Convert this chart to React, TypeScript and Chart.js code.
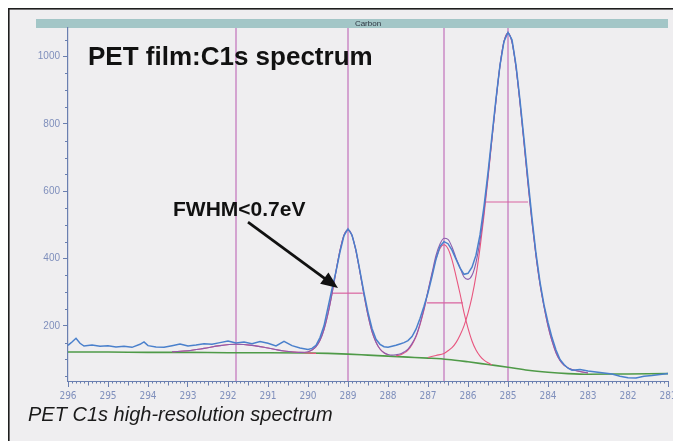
import { useEffect, useRef } from "react";
import { Chart, registerables } from "chart.js";

Chart.register(...registerables);

// ---- data (binding energy in eV, intensity in counts) ----
const rawE = [
  296.0, 295.9, 295.8, 295.7, 295.6, 295.4, 295.2, 295.0, 294.8, 294.6, 294.4, 294.2, 294.1, 294.0,
  293.8, 293.6, 293.4, 293.2, 293.0, 292.8, 292.6, 292.4, 292.2, 292.0, 291.8, 291.6, 291.4, 291.2,
  291.0, 290.8, 290.6, 290.4, 290.2, 290.0,
  289.9, 289.8, 289.7, 289.6, 289.5, 289.4, 289.3, 289.2, 289.1, 289.0,
  288.9, 288.8, 288.7, 288.6, 288.5, 288.4, 288.3, 288.2, 288.1, 288.0,
  287.9, 287.8, 287.7, 287.6, 287.5, 287.4, 287.3, 287.2, 287.1, 287.0,
  286.9, 286.8, 286.7, 286.6, 286.5, 286.4, 286.3, 286.2, 286.1, 286.0,
  285.9, 285.8, 285.7, 285.6, 285.5, 285.4, 285.3, 285.2, 285.1, 285.0,
  284.9, 284.8, 284.7, 284.6, 284.5, 284.4, 284.3, 284.2, 284.1, 284.0,
  283.9, 283.8, 283.7, 283.6, 283.5, 283.4, 283.2, 283.0,
  282.8, 282.6, 282.4, 282.2, 282.0, 281.8, 281.6, 281.4, 281.2, 281.0,
];
const rawI = [
  142, 152, 163, 148, 140, 143, 139, 141, 137, 139, 136, 145, 152, 141,
  137, 136, 141, 146, 140, 143, 147, 145, 150, 155, 149, 152, 147, 153,
  148, 140, 154, 141, 134, 130,
  133, 142, 165, 200, 255, 310, 362, 420, 468, 488,
  470, 425, 362, 298, 240, 192, 160, 145, 138, 136,
  139, 142, 146, 150, 156, 168, 190, 222, 258, 298,
  346, 398, 436, 450, 444, 425, 398, 372, 353, 356,
  374, 410, 470, 555, 655, 765, 875, 975, 1045, 1072,
  1050, 975, 870, 755, 635, 520, 415, 330, 262, 210,
  165, 128, 100, 85, 74, 68, 70, 66,
  63, 60, 57, 50, 46, 45, 50, 52, 55, 58,
];

const envE = [
  293.4, 293.0, 292.6, 292.2, 291.8, 291.4, 291.0, 290.6, 290.2,
  290.0, 289.9, 289.8, 289.7, 289.6, 289.5, 289.4, 289.3, 289.2, 289.1, 289.0,
  288.9, 288.8, 288.7, 288.6, 288.5, 288.4, 288.3, 288.2, 288.1, 288.0,
  287.9, 287.8, 287.7, 287.6, 287.5, 287.4, 287.3, 287.2, 287.1, 287.0,
  286.9, 286.8, 286.7, 286.6, 286.5, 286.4, 286.3, 286.2, 286.1, 286.0,
  285.9, 285.8, 285.7, 285.6, 285.5, 285.4, 285.3, 285.2, 285.1, 285.0,
  284.9, 284.8, 284.7, 284.6, 284.5, 284.4, 284.3, 284.2, 284.1, 284.0,
  283.9, 283.8, 283.7, 283.6, 283.5, 283.4, 283.2, 283.0,
];
const envI = [
  123, 126, 133, 141, 145, 142, 134, 125, 121,
  123, 128, 138, 157, 189, 236, 295, 362, 424, 469, 485,
  468, 422, 359, 292, 231, 183, 151, 131, 120, 115,
  113, 114, 116, 122, 131, 147, 170, 206, 250, 304,
  357, 409, 443, 460, 457, 434, 402, 373, 345, 338,
  350, 388, 453, 540, 644, 758, 870, 973, 1045, 1070,
  1043, 968, 862, 744, 622, 508, 408, 324, 258, 200,
  155, 120, 97, 83, 75, 70, 64, 60,
];

const c1E = [290.0, 289.9, 289.8, 289.7, 289.6, 289.5, 289.4, 289.3, 289.2, 289.1, 289.0,
  288.9, 288.8, 288.7, 288.6, 288.5, 288.4, 288.3, 288.2, 288.1, 288.0];
const c1I = [123, 128, 138, 157, 189, 236, 295, 362, 424, 469, 485,
  468, 422, 359, 292, 231, 183, 151, 131, 120, 114];

const c2E = [287.8, 287.7, 287.6, 287.5, 287.4, 287.3, 287.2, 287.1, 287.0, 286.9, 286.8, 286.7, 286.6,
  286.5, 286.4, 286.3, 286.2, 286.1, 286.0, 285.9, 285.8, 285.7, 285.6, 285.5, 285.4];
const c2I = [111, 113, 119, 128, 144, 167, 203, 247, 302, 353, 399, 430, 441,
  429, 396, 348, 296, 239, 193, 155, 128, 110, 98, 90, 84];

const c3E = [287.0, 286.8, 286.6, 286.5, 286.4, 286.3, 286.2, 286.1, 286.0,
  285.9, 285.8, 285.7, 285.6, 285.5, 285.4, 285.3, 285.2, 285.1, 285.0,
  284.9, 284.8, 284.7, 284.6, 284.5, 284.4, 284.3, 284.2, 284.1, 284.0,
  283.9, 283.8, 283.7, 283.6, 283.5, 283.4, 283.2, 283.0];
const c3I = [106, 112, 118, 126, 135, 150, 172, 200, 238,
  286, 349, 431, 528, 638, 756, 870, 973, 1045, 1070,
  1043, 968, 862, 744, 622, 508, 408, 324, 258, 200,
  155, 120, 97, 83, 75, 70, 64, 60];

const c4E = [293.4, 293.0, 292.6, 292.2, 291.8, 291.4, 291.0, 290.6, 290.2, 289.8];
const c4I = [123, 126, 133, 141, 145, 142, 134, 125, 121, 118];

const bgE = [296, 295, 294, 293, 292, 291, 290, 289.5, 289, 288.5, 288, 287.5, 287, 286.5,
  286, 285.5, 285, 284.5, 284, 283.5, 283, 282, 281];
const bgI = [122, 122, 121, 121, 120, 120, 119, 118, 116, 113, 110, 107, 104, 100,
  93, 85, 77, 68, 62, 58, 56, 57, 58];

const markerE = [291.8, 289.0, 286.6, 285.0];
const fwhmFrom = [289.4, 287.03, 285.6];
const fwhmTo = [288.63, 286.13, 284.5];
const fwhmLevel = [297, 268, 568];

const xTicks = [296, 295, 294, 293, 292, 291, 290, 289, 288, 287, 286, 285, 284, 283, 282, 281];
const yTicks = [200, 400, 600, 800, 1000];

const titleText = "PET film:C1s spectrum";
const noteText = "FWHM<0.7eV";
const captionText = "PET C1s high-resolution spectrum";
const headerText = "Carbon";

const X_MIN = 281, X_MAX = 296, Y_MIN = 36, Y_MAX = 1085;

const AXIS = "#6a7fb0";
const LABEL = "#7f8fbc";

const pts = (e: number[], v: number[]) => e.map((x, i) => ({ x, y: v[i] }));

const decor = {
  id: "decor",
  beforeDraw(chart: any) {
    const { ctx, width, height, chartArea: a } = chart;
    ctx.save();
    ctx.fillStyle = "#efeef0";
    ctx.fillRect(0, 0, width, height);
    ctx.fillStyle = "#1e1e1e";
    ctx.fillRect(0, 0, width, 1.6);
    ctx.fillRect(0, 0, 1.6, height);
    // header bar
    ctx.fillStyle = "#a3c6c7";
    ctx.fillRect(a.left - 32, a.top - 9, a.right - a.left + 32, 9);
    ctx.fillStyle = "#2c3540";
    ctx.font = '8px "Liberation Sans", Arial, sans-serif';
    ctx.textAlign = "center";
    ctx.textBaseline = "middle";
    ctx.fillText(headerText, (a.left + a.right) / 2, a.top - 4.5);
    ctx.restore();
  },
  afterDraw(chart: any) {
    const { ctx, chartArea: a } = chart;
    const xs = chart.scales.x, ys = chart.scales.y;
    ctx.save();
    // minor ticks
    ctx.strokeStyle = AXIS;
    ctx.lineWidth = 1;
    ctx.beginPath();
    for (let i = 0; i <= 150; i++) {
      if (i % 10 === 0) continue;
      const px = Math.round(xs.getPixelForValue(X_MIN + i / 10)) + 0.5;
      const len = i % 5 === 0 ? 4.5 : 2.5;
      ctx.moveTo(px, a.bottom);
      ctx.lineTo(px, a.bottom + len);
    }
    for (let v = 50; v <= 1050; v += 50) {
      if (v % 200 === 0) continue;
      const py = Math.round(ys.getPixelForValue(v)) + 0.5;
      ctx.moveTo(a.left - 3, py);
      ctx.lineTo(a.left, py);
    }
    ctx.stroke();

    // title
    ctx.fillStyle = "#111";
    ctx.textAlign = "left";
    ctx.textBaseline = "alphabetic";
    ctx.font = 'bold 26px "Liberation Sans", Arial, sans-serif';
    ctx.fillText(titleText, 80, 57);
    // annotation
    ctx.font = 'bold 21px "Liberation Sans", Arial, sans-serif';
    ctx.fillText(noteText, 165, 208);
    // arrow
    const x0 = xs.getPixelForValue(291.5), y0 = ys.getPixelForValue(508);
    const x1 = xs.getPixelForValue(289.25), y1 = ys.getPixelForValue(312);
    const ang = Math.atan2(y1 - y0, x1 - x0);
    ctx.strokeStyle = "#111";
    ctx.lineWidth = 2.8;
    ctx.beginPath();
    ctx.moveTo(x0, y0);
    ctx.lineTo(x1 - 12 * Math.cos(ang), y1 - 12 * Math.sin(ang));
    ctx.stroke();
    ctx.beginPath();
    ctx.moveTo(x1, y1);
    ctx.lineTo(x1 - 17 * Math.cos(ang) + 7 * Math.sin(ang), y1 - 17 * Math.sin(ang) - 7 * Math.cos(ang));
    ctx.lineTo(x1 - 17 * Math.cos(ang) - 7 * Math.sin(ang), y1 - 17 * Math.sin(ang) + 7 * Math.cos(ang));
    ctx.closePath();
    ctx.fill();
    // caption
    ctx.fillStyle = "#1a1a1a";
    ctx.font = 'italic 20px "Liberation Sans", Arial, sans-serif';
    ctx.fillText(captionText, 20, 413);
    ctx.restore();
  },
};

export default function App() {
  const ref = useRef<HTMLCanvasElement | null>(null);
  useEffect(() => {
    if (!ref.current) return;
    const line = (data: any, color: string, width: number, extra: any = {}) => ({
      data,
      borderColor: color,
      backgroundColor: color,
      borderWidth: width,
      showLine: true,
      pointRadius: 0,
      fill: false,
      ...extra,
    });
    const smooth = { cubicInterpolationMode: "monotone" };
    const datasets: any[] = [
      line(pts(rawE, rawI), "#4a80cc", 1.5, { tension: 0 }),
      line(pts(envE, envI), "#8a5cae", 1.1, smooth),
      line(pts(c1E, c1I), "#e8567f", 1.1, smooth),
      line(pts(c2E, c2I), "#e8567f", 1.1, smooth),
      line(pts(c3E, c3I), "#e8567f", 1.1, smooth),
      line(pts(c4E, c4I), "#e8567f", 1.1, smooth),
      ...fwhmLevel.map((lv, i) =>
        line([{ x: fwhmFrom[i], y: lv }, { x: fwhmTo[i], y: lv }], "#d9639f", 1.2)
      ),
      line(pts(bgE, bgI), "#4f9a48", 1.6, smooth),
      ...markerE.map((e) =>
        line([{ x: e, y: Y_MIN }, { x: e, y: Y_MAX }], "#c57bbf", 1.3)
      ),
    ];
    const chart = new Chart(ref.current, {
      type: "scatter",
      data: { datasets },
      options: {
        responsive: false,
        animation: false,
        events: [],
        layout: { padding: { top: 20, right: 5, left: 0, bottom: 0 } },
        plugins: { legend: { display: false }, tooltip: { enabled: false } },
        scales: {
          x: {
            type: "linear",
            reverse: true,
            min: X_MIN,
            max: X_MAX,
            afterBuildTicks: (s: any) => {
              s.ticks = xTicks.map((v) => ({ value: v }));
            },
            afterFit: (s: any) => {
              s.height = 60;
              s.paddingLeft = 0;
              s.paddingRight = 0;
            },
            grid: { display: true, drawOnChartArea: false, drawTicks: true, tickLength: 6, color: AXIS, lineWidth: 1 },
            border: { display: true, color: AXIS, width: 1 },
            ticks: {
              color: LABEL,
              autoSkip: false,
              maxRotation: 0,
              padding: 3,
              font: { size: 10, family: '"Liberation Sans Narrow", "DejaVu Sans Condensed", "Liberation Sans", sans-serif' },
              callback: (v: any) => String(v),
            },
          },
          y: {
            type: "linear",
            min: Y_MIN,
            max: Y_MAX,
            afterBuildTicks: (s: any) => {
              s.ticks = yTicks.map((v) => ({ value: v }));
            },
            afterFit: (s: any) => {
              s.width = 60;
              s.paddingTop = 0;
              s.paddingBottom = 0;
            },
            grid: { display: true, drawOnChartArea: false, drawTicks: true, tickLength: 5, color: AXIS, lineWidth: 1 },
            border: { display: true, color: AXIS, width: 1.2 },
            ticks: {
              color: LABEL,
              padding: 3,
              font: { size: 10, family: '"Liberation Sans", Arial, sans-serif' },
              callback: (v: any) => String(v),
            },
          },
        },
      },
      plugins: [decor],
    });
    return () => chart.destroy();
  }, []);
  return (
    <canvas
      ref={ref}
      width={665}
      height={433}
      style={{ display: "block", position: "absolute", left: 8, top: 8, width: 665, height: 433 }}
    />
  );
}
